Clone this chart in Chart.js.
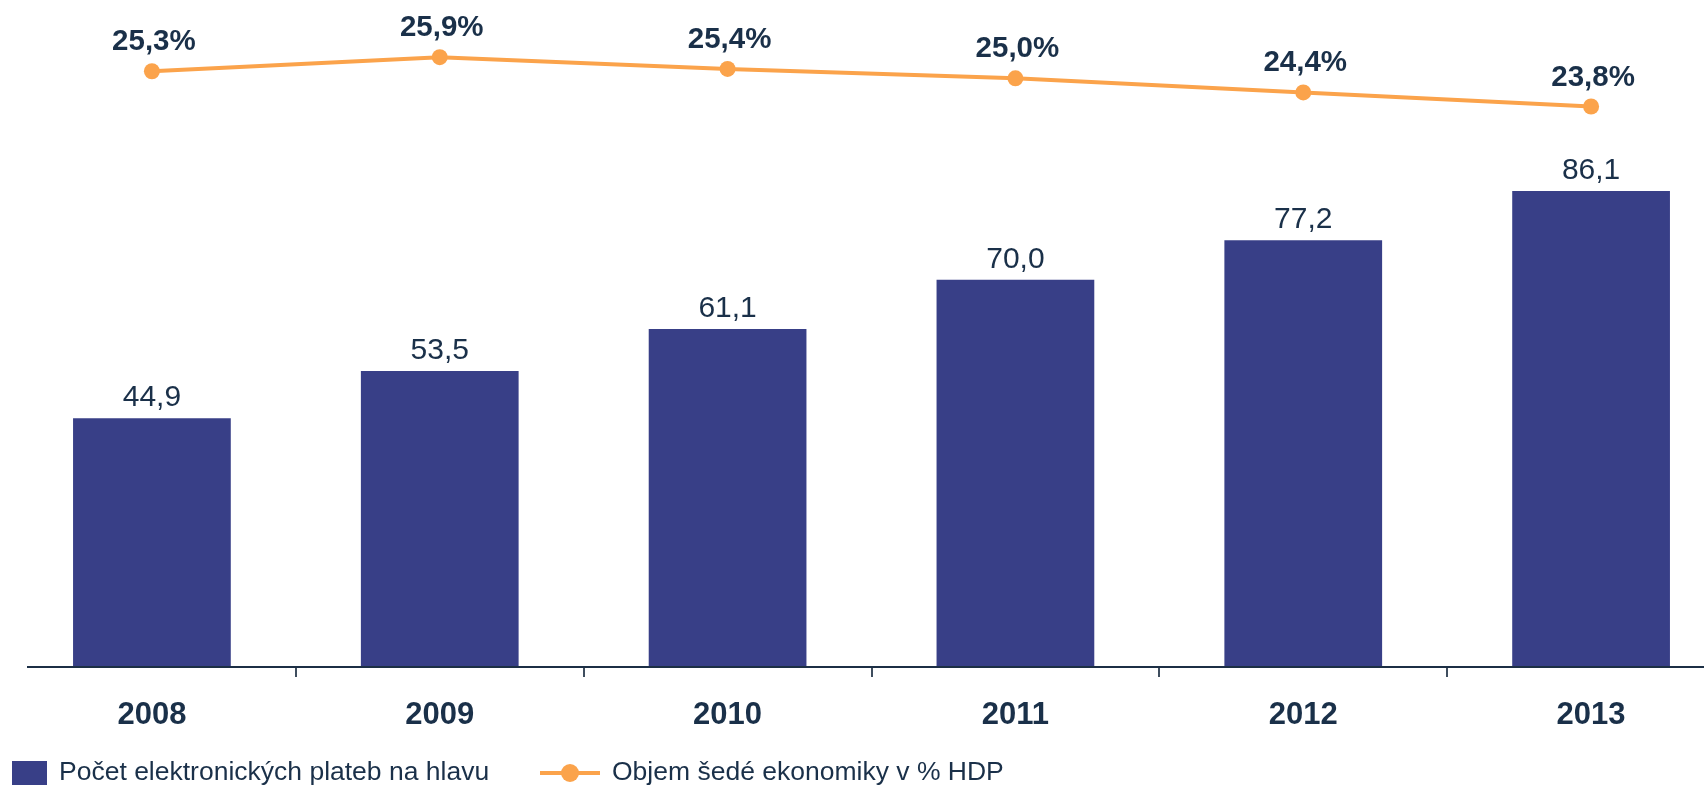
<!DOCTYPE html>
<html>
<head>
<meta charset="utf-8">
<script src="https://cdn.jsdelivr.net/npm/chart.js@4/dist/chart.umd.min.js"></script>
<style>
    html, body { margin: 0; padding: 0; background: #ffffff; overflow: hidden; }
    #obal { position: relative; width: 1743px; height: 785px; }
</style>
</head>
<body>
<div id="obal"><canvas id="grafPlatby" width="1743" height="785"></canvas></div>
<script>
// Data
const roky = ['2008', '2009', '2010', '2011', '2012', '2013'];
const platby = [44.9, 53.5, 61.1, 70.0, 77.2, 86.1];
const sedaEkonomika = [25.3, 25.9, 25.4, 25.0, 24.4, 23.8];
const nazvyRad = ['Počet elektronických plateb na hlavu', 'Objem šedé ekonomiky v % HDP'];

const barvaSloupcu = '#383f87';
const barvaCary = '#fba34b';
const barvaTextu = '#1a3049';
const pismo = '"Liberation Sans", Arial, sans-serif';

function formatCislo(v) {
    return v.toFixed(1).replace('.', ',');
}

// popisky nad sloupci a body
const popisky = {
    id: 'popisky',
    afterDatasetsDraw(chart) {
        const ctx = chart.ctx;
        ctx.save();
        ctx.textAlign = 'center';
        ctx.textBaseline = 'alphabetic';
        ctx.fillStyle = barvaTextu;

        ctx.font = '30px ' + pismo;
        chart.getDatasetMeta(1).data.forEach((bar, i) => {
            ctx.fillText(formatCislo(platby[i]), bar.x, bar.y - 12);
        });

        ctx.font = 'bold 29.5px ' + pismo;
        chart.getDatasetMeta(0).data.forEach((bod, i) => {
            ctx.fillText(formatCislo(sedaEkonomika[i]) + '%', bod.x + 2, bod.y - 21);
        });
        ctx.restore();
    }
};

// osa x - cara a carky mezi kategoriemi
const osaX = {
    id: 'osaX',
    afterDraw(chart) {
        const ctx = chart.ctx;
        const sx = chart.scales.x;
        const y = sx.top;
        ctx.save();
        ctx.strokeStyle = '#3f4d5e';
        ctx.lineWidth = 2;
        for (let i = 1; i < roky.length; i++) {
            const x = Math.round((sx.getPixelForTick(i - 1) + sx.getPixelForTick(i)) / 2);
            ctx.beginPath();
            ctx.moveTo(x, y + 2);
            ctx.lineTo(x, y + 11);
            ctx.stroke();
        }
        ctx.strokeStyle = '#1c2f45';
        ctx.beginPath();
        ctx.moveTo(27, y + 1);
        ctx.lineTo(chart.width, y + 1);
        ctx.stroke();
        ctx.restore();
    }
};

// legenda dole
const legenda = {
    id: 'legenda',
    afterDraw(chart) {
        const ctx = chart.ctx;
        ctx.save();
        ctx.fillStyle = barvaSloupcu;
        ctx.fillRect(12, 761, 35, 35);

        ctx.strokeStyle = barvaCary;
        ctx.lineWidth = 4;
        ctx.beginPath();
        ctx.moveTo(540, 773);
        ctx.lineTo(600, 773);
        ctx.stroke();
        ctx.fillStyle = barvaCary;
        ctx.beginPath();
        ctx.arc(570, 773, 9, 0, Math.PI * 2);
        ctx.fill();

        ctx.fillStyle = barvaTextu;
        ctx.font = '26.5px ' + pismo;
        ctx.textAlign = 'left';
        ctx.textBaseline = 'alphabetic';
        ctx.fillText(nazvyRad[0], 59, 780);
        ctx.fillText(nazvyRad[1], 612, 780);
        ctx.restore();
    }
};

const ctxGraf = document.getElementById('grafPlatby').getContext('2d');
new Chart(ctxGraf, {
    data: {
        labels: roky,
        datasets: [{
            type: 'line',
            label: nazvyRad[1],
            data: sedaEkonomika,
            yAxisID: 'y2',
            borderColor: barvaCary,
            backgroundColor: barvaCary,
            borderWidth: 4,
            pointRadius: 8,
            pointHoverRadius: 8,
            pointBorderWidth: 0,
            tension: 0,
            order: 0
        }, {
            type: 'bar',
            label: nazvyRad[0],
            data: platby,
            yAxisID: 'y',
            backgroundColor: barvaSloupcu,
            barPercentage: 0.548,
            categoryPercentage: 1,
            order: 1
        }]
    },
    options: {
        responsive: false,
        animation: false,
        layout: { padding: { left: 5, right: 5, top: 20, bottom: 0 } },
        plugins: {
            legend: { display: false },
            tooltip: { enabled: false }
        },
        scales: {
            x: {
                offset: true,
                grid: { display: false, drawTicks: false },
                border: { display: false },
                ticks: {
                    color: barvaTextu,
                    font: { family: pismo, size: 31, weight: 'bold' },
                    padding: 31
                },
                afterFit(scale) { scale.height = 119; }
            },
            y: { display: false, min: 0, max: 117.11 },
            y2: { display: false, min: 0, max: 27.48, position: 'right' }
        }
    },
    plugins: [popisky, osaX, legenda]
});
</script>
</body>
</html>
